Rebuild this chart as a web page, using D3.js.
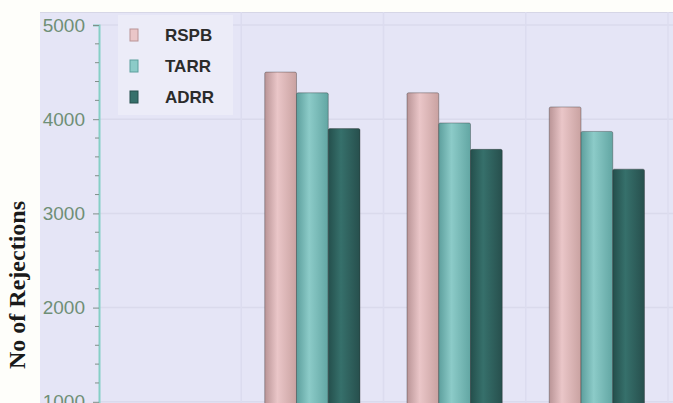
<!DOCTYPE html>
<html>
<head>
<meta charset="utf-8">
<script src="https://cdn.jsdelivr.net/npm/d3@7"></script>
<style>
  body { margin: 0; background: #fefefa; }
  svg { display: block; }
</style>
</head>
<body>
<div id="chart"></div>
<script>
// data (first group has no visible bars, labels cut off)
var categories = ["G1", "G2", "G3", "G4"];
var seriesNames = ["RSPB", "TARR", "ADRR"];
var rspb = [null, 4500, 4280, 4130];
var tarr = [null, 4280, 3960, 3870];
var adrr = [null, 3900, 3680, 3470];
var yTicks = [1000, 2000, 3000, 4000, 5000];

var colors = {
  RSPB: ["#b99496", "#eac6c8", "#c9a2a1"],
  TARR: ["#5d9f9d", "#8ccbc8", "#62a6a3"],
  ADRR: ["#244f4c", "#36706b", "#274f4d"]
};

var W = 673, H = 403;
var left = 99, right = 668, plotTop = 12;

var svg = d3.select("#chart").append("svg")
    .attr("width", W)
    .attr("height", H);

var defs = svg.append("defs");
seriesNames.forEach(function(s) {
  var g = defs.append("linearGradient")
      .attr("id", "grad-" + s)
      .attr("x1", "0%").attr("x2", "100%").attr("y1", "0%").attr("y2", "0%");
  g.append("stop").attr("offset", "0%").attr("stop-color", colors[s][0]);
  g.append("stop").attr("offset", "40%").attr("stop-color", colors[s][1]);
  g.append("stop").attr("offset", "100%").attr("stop-color", colors[s][2]);
});

var y = d3.scaleLinear()
    .domain([0, 5000])
    .range([496, 25]);

var x = d3.scaleBand()
    .domain(categories)
    .range([left, right]);

var x1 = d3.scaleBand()
    .domain(seriesNames)
    .range([0, x.bandwidth()])
    .paddingOuter(0.74);

// plot background
svg.append("rect")
    .attr("x", 40).attr("y", plotTop)
    .attr("width", W - 40).attr("height", H - plotTop)
    .attr("fill", "#e5e5f6");
svg.append("line")
    .attr("x1", 40).attr("x2", W)
    .attr("y1", plotTop + 0.5).attr("y2", plotTop + 0.5)
    .attr("stroke", "#d6d6e6");

// grid
svg.append("g")
  .selectAll("line")
  .data(yTicks)
  .enter().append("line")
    .attr("x1", left).attr("x2", W)
    .attr("y1", function(d) { return y(d); })
    .attr("y2", function(d) { return y(d); })
    .attr("stroke", "#dadaec")
    .attr("stroke-width", 1.5);

svg.append("g")
  .selectAll("line")
  .data(categories)
  .enter().append("line")
    .attr("x1", function(d) { return x(d) + x.bandwidth(); })
    .attr("x2", function(d) { return x(d) + x.bandwidth(); })
    .attr("y1", plotTop).attr("y2", H)
    .attr("stroke", "#dcdcef")
    .attr("stroke-width", 1.5);

// legend
var legend = svg.append("g").attr("transform", "translate(118,15)");
legend.append("rect")
    .attr("width", 115).attr("height", 100)
    .attr("fill", "#ececf8");
legend.selectAll("g")
  .data(seriesNames)
  .enter().append("g")
    .attr("transform", function(d, i) { return "translate(0," + (20 + i * 31) + ")"; })
    .each(function(d) {
      var g = d3.select(this);
      g.append("rect")
        .attr("x", 12).attr("y", -6).attr("width", 8).attr("height", 12)
        .attr("fill", colors[d][1])
        .attr("stroke", colors[d][0]).attr("stroke-width", 1);
      g.append("text")
        .attr("x", 47).attr("y", 0).attr("dy", "0.35em")
        .attr("font-family", "Liberation Sans, sans-serif")
        .attr("font-size", 17)
        .attr("font-weight", "bold")
        .attr("fill", "#2b2b2b")
        .text(d);
    });

// bars
var table = categories.map(function(c, i) {
  return { cat: c, values: [
    { key: "RSPB", v: rspb[i] },
    { key: "TARR", v: tarr[i] },
    { key: "ADRR", v: adrr[i] }
  ]};
});

svg.append("g")
  .selectAll("g")
  .data(table)
  .enter().append("g")
    .attr("transform", function(d) { return "translate(" + x(d.cat) + ",0)"; })
  .selectAll("rect")
  .data(function(d) { return d.values.filter(function(e) { return e.v != null; }); })
  .enter().append("rect")
    .attr("x", function(d) { return x1(d.key); })
    .attr("y", function(d) { return y(d.v); })
    .attr("width", x1.bandwidth())
    .attr("height", function(d) { return y(0) - y(d.v); })
    .attr("rx", 1.5)
    .attr("fill", function(d) { return "url(#grad-" + d.key + ")"; })
    .attr("stroke", "rgba(40,40,40,0.35)")
    .attr("stroke-width", 1);

// y axis
var yAxis = svg.append("g")
    .attr("transform", "translate(" + left + ",0)")
    .call(d3.axisLeft(y).tickValues(yTicks).tickSize(6).tickFormat(d3.format("d")));
yAxis.select(".domain").attr("stroke", "#86cfc6").attr("stroke-width", 2);
yAxis.selectAll(".tick line").attr("stroke", "#7f8f8a");
yAxis.selectAll(".tick text")
    .attr("x", -14)
    .attr("font-family", "Liberation Sans, sans-serif")
    .attr("font-size", 19)
    .attr("fill", "#6f8f76");

var minor = d3.range(0, 5001, 200).filter(function(v) { return v % 1000 !== 0; });
svg.append("g")
  .selectAll("line")
  .data(minor)
  .enter().append("line")
    .attr("x1", left - 4).attr("x2", left)
    .attr("y1", function(d) { return y(d); })
    .attr("y2", function(d) { return y(d); })
    .attr("stroke", "#7f8f8a");

// y title
svg.append("text")
    .attr("transform", "translate(25,285) rotate(-90)")
    .attr("text-anchor", "middle")
    .attr("font-family", "Liberation Serif, serif")
    .attr("font-weight", "bold")
    .attr("font-size", 24)
    .attr("fill", "#1a1a1a")
    .text("No of Rejections");
</script>
</body>
</html>
